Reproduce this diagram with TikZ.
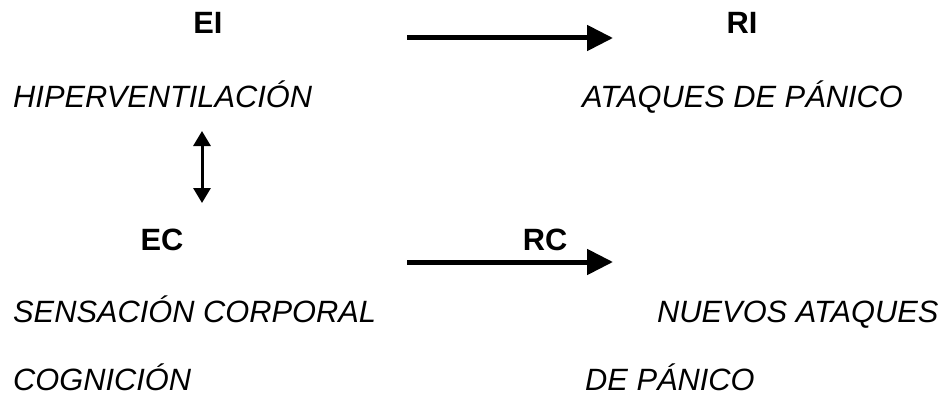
\documentclass[tikz,border=0pt]{standalone}
\usepackage{fontspec}
\setmainfont{Liberation Sans}
\usetikzlibrary{arrows.meta}

\tikzset{
  term/.style={anchor=base west,inner sep=0pt,font=\fontsize{30.8}{36}\selectfont\itshape},
  tag/.style={anchor=base,inner sep=0pt,font=\fontsize{30.8}{36}\selectfont\bfseries},
  pairing/.style={line width=5pt,-{Triangle[length=26pt,width=25pt]}},
  link/.style={line width=3pt,{Triangle[length=15pt,width=17pt]}-{Triangle[length=15pt,width=17pt]}}
}

\begin{document}
\begin{tikzpicture}[x=1pt,y=-1pt]
  \useasboundingbox (0,0) rectangle (950,396);

  % unconditioned pair
  \node[tag] (ei) at (208,34) {EI};
  \node[tag] (ri) at (742,34) {RI};
  \node[term] (hiper) at (13,107) {HIPERVENTILACIÓN};
  \node[term] (ataque) at (582,107) {ATAQUES DE PÁNICO};

  % conditioned pair
  \node[tag] (ec) at (162,250) {EC};
  \node[tag] (rc) at (545,250) {RC};
  \node[term] (sens) at (13,322) {SENSACIÓN CORPORAL};
  \node[term] (cogn) at (13,390) {COGNICIÓN};
  \node[term] (nuevos) at (657,322) {NUEVOS ATAQUES};
  \node[term] (depan) at (585,390) {DE PÁNICO};

  % arrows
  \coordinate (top1) at (407,38);
  \coordinate (top2) at (613,38);
  \coordinate (bot1) at (407,262);
  \coordinate (bot2) at (613,262);
  \coordinate (up) at (202,131);
  \coordinate (down) at (202,203);
  \draw[pairing] (top1) -- (top2);
  \draw[pairing] (bot1) -- (bot2);
  \draw[link] (up) -- (down);
\end{tikzpicture}
\end{document}
